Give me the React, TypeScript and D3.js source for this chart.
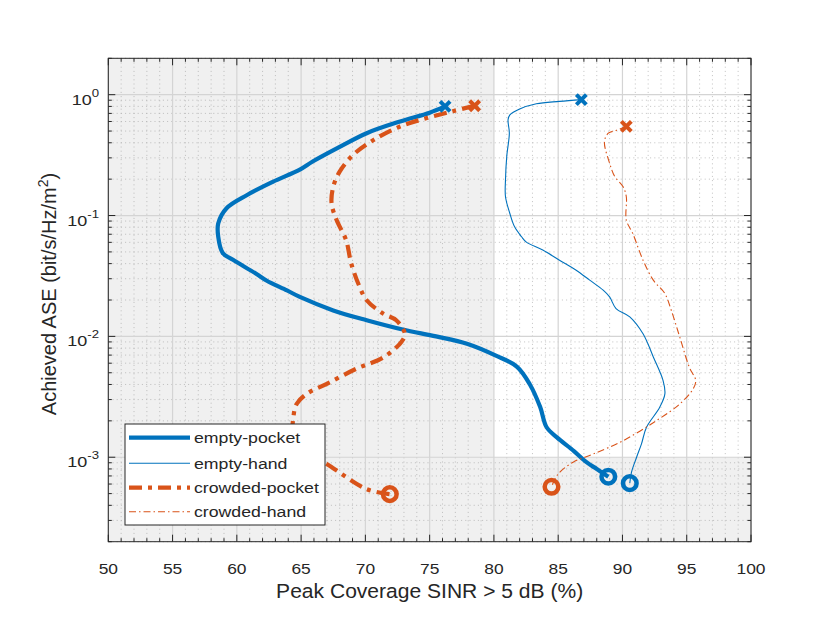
import React from "react";
import * as d3 from "d3";

const epX = [76.2, 75.0, 72.7, 70.1, 68.0, 65.9, 64.9, 62.8, 60.8, 59.2, 58.55, 58.55, 58.9, 59.7, 61.5, 62.3, 63.9, 64.9, 67.5, 70.1, 72.9, 75.5, 77.9, 80.2, 81.8, 82.8, 83.6, 84.1, 84.9, 86.2, 87.2, 88.0, 88.9];
const epY = [0.80, 0.71, 0.60, 0.48, 0.37, 0.28, 0.24, 0.19, 0.148, 0.115, 0.086, 0.067, 0.049, 0.043, 0.033, 0.029, 0.024, 0.0212, 0.0164, 0.0136, 0.0114, 0.0100, 0.0087, 0.0069, 0.0056, 0.0040, 0.0026, 0.00177, 0.00146, 0.00113, 0.00091, 0.00080, 0.00069];

const ehX = [86.8, 85.1, 83.3, 82.0, 81.24, 81.1, 81.2, 81.0, 80.9, 80.9, 81.24, 81.6, 82.15, 82.5, 83.8, 85.1, 86.4, 87.45, 88.5, 89.0, 89.5, 90.57, 91.6, 92.4, 93.16, 93.3, 92.9, 91.87, 91.48, 91.1, 90.7, 90.57];
const ehY = [0.91, 0.88, 0.84, 0.76, 0.68, 0.62, 0.48, 0.31, 0.197, 0.143, 0.104, 0.081, 0.0667, 0.0606, 0.0518, 0.0427, 0.0353, 0.0292, 0.0241, 0.0212, 0.017, 0.0145, 0.0105, 0.00676, 0.00431, 0.00334, 0.00259, 0.00177, 0.00129, 0.0010, 0.00075, 0.00061];

const cpX = [78.5, 76.8, 74.76, 72.7, 70.6, 69.05, 68.0, 67.5, 67.37, 67.76, 68.5, 68.9, 69.5, 70.1, 71.4, 72.4, 73.07, 72.8, 71.4, 69.3, 67.0, 65.43, 64.65, 64.4, 64.4, 65.5, 67.0, 70.1, 71.9];
const cpY = [0.81, 0.73, 0.64, 0.546, 0.42, 0.318, 0.231, 0.173, 0.126, 0.0918, 0.0626, 0.0401, 0.0265, 0.0199, 0.0154, 0.0136, 0.0105, 0.0090, 0.0067, 0.0054, 0.00405, 0.00334, 0.00276, 0.00214, 0.0016, 0.0011, 0.00088, 0.000545, 0.000495];

const chX = [90.3, 89.5, 88.9, 88.6, 89.0, 89.4, 90.05, 90.3, 90.3, 90.8, 91.6, 92.4, 93.3, 93.8, 94.46, 95.2, 95.7, 95.5, 94.46, 92.65, 90.05, 87.7, 86.16, 84.99, 84.48];
const chY = [0.546, 0.506, 0.48, 0.41, 0.271, 0.21, 0.173, 0.143, 0.0918, 0.0711, 0.0427, 0.0292, 0.0226, 0.0164, 0.00986, 0.00556, 0.00431, 0.00368, 0.00276, 0.00201, 0.00137, 0.00106, 0.00091, 0.000725, 0.000569];

const seriesNames = ["empty-pocket", "empty-hand", "crowded-pocket", "crowded-hand"];
const xTicks = [50, 55, 60, 65, 70, 75, 80, 85, 90, 95, 100];
const yTickExps = [0, -1, -2, -3];
const xLabel = "Peak Coverage SINR > 5 dB (%)";

const BLUE = "#0072BD";
const ORANGE = "#D95319";
const AX = "#262626";
const FONT = "'Liberation Sans', Arial, Helvetica, sans-serif";

const L = 108.3, R = 751, T = 58.3, B = 541.7;
const SX = 1.2;

export default function App() {
  const x = d3.scaleLinear().domain([50, 100]).range([L, R]);
  const y = d3.scaleLog().domain([2e-4, 2]).range([B, T]);

  const line = d3
    .line<[number, number]>()
    .x((d) => x(d[0]))
    .y((d) => y(d[1]))
    .curve(d3.curveCatmullRom.alpha(0.5));

  const zip = (a: number[], b: number[]) => a.map((v, i) => [v, b[i]] as [number, number]);

  const series = [
    { name: seriesNames[0], pts: zip(epX, epY), color: BLUE, w: 4.2, dash: "none" },
    { name: seriesNames[1], pts: zip(ehX, ehY), color: BLUE, w: 1.1, dash: "none" },
    { name: seriesNames[2], pts: zip(cpX, cpY), color: ORANGE, w: 4.2, dash: "13,6,4,6" },
    { name: seriesNames[3], pts: zip(chX, chY), color: ORANGE, w: 1.1, dash: "7,3,1.5,3" },
  ];

  const minorX = d3.range(51, 100).filter((v) => v % 5 !== 0);
  const minorY: number[] = [];
  for (let e = -4; e <= 0; e++) {
    for (let k = 2; k <= 9; k++) {
      const v = k * Math.pow(10, e);
      if (v >= 2e-4 && v <= 2) minorY.push(v);
    }
  }
  const majorY = yTickExps.map((e) => Math.pow(10, e));

  const tickMaj = 7;
  const tickMin = 3.5;

  return (
    <svg width={830} height={623} style={{ position: "absolute", left: 0, top: 0, background: "#fff" }} fontFamily={FONT}>
      <rect x={L} y={T} width={R - L} height={B - T} fill="#f0f0f0" />
      <rect x={x(80)} y={T} width={R - x(80)} height={y(1e-3) - T} fill="#ffffff" />

      <g stroke="#9c9c9c" strokeWidth={0.8} strokeDasharray="1,3.2" opacity={0.75}>
        {minorX.map((v) => (
          <line key={"mx" + v} x1={x(v)} x2={x(v)} y1={T} y2={B} />
        ))}
        {minorY.map((v, i) => (
          <line key={"my" + i} x1={L} x2={R} y1={y(v)} y2={y(v)} />
        ))}
      </g>
      <g stroke="#d4d4d4" strokeWidth={1.2}>
        {xTicks.map((v) => (
          <line key={"gx" + v} x1={x(v)} x2={x(v)} y1={T} y2={B} />
        ))}
        {majorY.map((v, i) => (
          <line key={"gy" + i} x1={L} x2={R} y1={y(v)} y2={y(v)} />
        ))}
      </g>

      <g stroke={AX} strokeWidth={1}>
        {xTicks.map((v) => (
          <g key={"tx" + v}>
            <line x1={x(v)} x2={x(v)} y1={B} y2={B - tickMaj} />
            <line x1={x(v)} x2={x(v)} y1={T} y2={T + tickMaj} />
          </g>
        ))}
        {minorX.map((v) => (
          <g key={"tmx" + v}>
            <line x1={x(v)} x2={x(v)} y1={B} y2={B - tickMin} />
            <line x1={x(v)} x2={x(v)} y1={T} y2={T + tickMin} />
          </g>
        ))}
        {majorY.map((v, i) => (
          <g key={"ty" + i}>
            <line x1={L} x2={L + tickMaj} y1={y(v)} y2={y(v)} />
            <line x1={R} x2={R - tickMaj} y1={y(v)} y2={y(v)} />
          </g>
        ))}
        {minorY.map((v, i) => (
          <g key={"tmy" + i}>
            <line x1={L} x2={L + tickMin} y1={y(v)} y2={y(v)} />
            <line x1={R} x2={R - tickMin} y1={y(v)} y2={y(v)} />
          </g>
        ))}
      </g>

      {series.map((s) => (
        <path
          key={s.name}
          d={line(s.pts) || ""}
          fill="none"
          stroke={s.color}
          strokeWidth={s.w}
          strokeDasharray={s.dash}
          strokeLinejoin="round"
        />
      ))}
      {series.map((s) => {
        const first = s.pts[0];
        const last = s.pts[s.pts.length - 1];
        const fx = x(first[0]), fy = y(first[1]);
        const lx = x(last[0]), ly = y(last[1]);
        const m = 5;
        return (
          <g key={"m" + s.name} stroke={s.color} fill="none" strokeWidth={4}>
            <line x1={fx - m} y1={fy - m} x2={fx + m} y2={fy + m} />
            <line x1={fx - m} y1={fy + m} x2={fx + m} y2={fy - m} />
            <circle cx={lx} cy={ly} r={6.8} strokeWidth={4.5} />
          </g>
        );
      })}

      <rect x={L} y={T} width={R - L} height={B - T} fill="none" stroke={AX} strokeWidth={1} />

      <g fontSize={14.5} fill={AX} textAnchor="middle">
        {xTicks.map((v) => (
          <text key={"lx" + v} transform={`translate(${x(v)},574) scale(${SX},1)`}>
            {v}
          </text>
        ))}
      </g>
      <g fontSize={15} fill={AX} textAnchor="end">
        {yTickExps.map((e) => (
          <text key={"ly" + e} transform={`translate(99,${y(Math.pow(10, e)) + 10}) scale(${SX},1)`}>
            10
            <tspan dy={-8} fontSize={11}>
              {e}
            </tspan>
          </text>
        ))}
      </g>

      <text transform={`translate(${(L + R) / 2},598) scale(1.08,1)`} fontSize={19.5} fill={AX} textAnchor="middle">
        {xLabel}
      </text>
      <text transform={`translate(56,294) rotate(-90)`} fontSize={20} fill={AX} textAnchor="middle">
        Achieved ASE (bit/s/Hz/m
        <tspan dy={-8} fontSize={14}>
          2
        </tspan>
        <tspan dy={8}>)</tspan>
      </text>

      <g>
        <rect x={125} y={424} width={200} height={101} fill="#fff" stroke={AX} strokeWidth={1} />
        {series.map((s, i) => {
          const cy = [437.7, 463.3, 487.7, 511.7][i];
          return (
            <g key={"lg" + s.name}>
              <line x1={129} x2={190} y1={cy} y2={cy} stroke={s.color} strokeWidth={s.w} strokeDasharray={s.dash} />
              <text transform={`translate(194,${cy + 5.5}) scale(1.18,1)`} fontSize={15} fill={AX}>
                {s.name}
              </text>
            </g>
          );
        })}
      </g>
    </svg>
  );
}
